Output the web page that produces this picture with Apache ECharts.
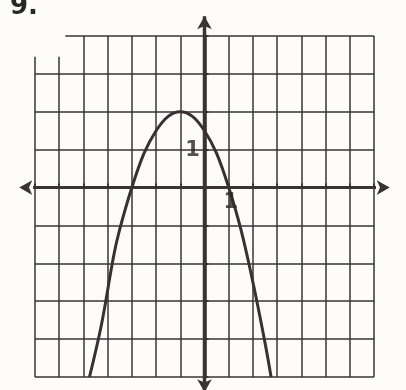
<!DOCTYPE html>
<html>
<head>
<meta charset="utf-8">
<script src="https://cdn.jsdelivr.net/npm/echarts@6/dist/echarts.min.js"></script>
<style>
  html, body { margin: 0; padding: 0; background: #fdfcfb; }
  #chart { width: 406px; height: 390px; }
</style>
</head>
<body>
<div id="chart"></div>
<script>
// Graph window, in grid units
const xRange = [-7, 7];
const yRange = [-5, 4];

// Points read along the parabola
const curveX = [-4.75, -4.25, -3.75, -3.5, -3, -2.5, -2, -1.5, -1, -0.5, 0, 0.5, 1, 1.5, 2, 2.5, 2.75];
const curveY = [-5, -3.6, -1.8, -1.1, 0, 0.9, 1.5, 1.88, 2, 1.88, 1.5, 0.9, 0, -1.1, -2.5, -4.1, -5];

// Axis ends (arrow centres), in grid units
const xAxisEnds = [-7.65, 7.65];
const yAxisEnds = [-5.4, 4.52];

// The two labelled ticks: [x, y, text]
const tickLabels = [[1, 0, '1'], [0, 1, '1']];

const INK = '#3a3333';

const chart = echarts.init(document.getElementById('chart'));

const curveData = curveX.map((x, i) => [x, curveY[i]]);

const axisArrow = (value, rotate) => ({
  value: value,
  symbol: 'arrow',
  symbolSize: [11, 13],
  symbolRotate: rotate,
});

chart.setOption({
  backgroundColor: '#fdfcfb',
  animation: false,
  title: {
    text: '9.',
    left: 5,
    top: -11,
    textStyle: { fontSize: 26, fontWeight: 'bold', color: '#2a2626', fontFamily: 'DejaVu Sans' },
  },
  grid: { left: 35, right: 32, top: 36, bottom: 13, containLabel: false },
  xAxis: {
    type: 'value',
    min: xRange[0],
    max: xRange[1],
    interval: 1,
    axisLine: { show: true, onZero: true, lineStyle: { color: INK, width: 3 } },
    axisTick: { show: true, inside: true, length: 4, lineStyle: { color: INK, width: 2 } },
    axisLabel: { show: false },
    splitLine: { show: true, lineStyle: { color: INK, width: 1.5 } },
  },
  yAxis: {
    type: 'value',
    min: yRange[0],
    max: yRange[1],
    interval: 1,
    axisLine: { show: true, onZero: true, lineStyle: { color: INK, width: 3.5 } },
    axisTick: { show: true, inside: true, length: 4, lineStyle: { color: INK, width: 2 } },
    axisLabel: { show: false },
    splitLine: { show: true, lineStyle: { color: INK, width: 1.5 } },
  },
  series: [
    {
      name: 'x axis',
      type: 'line',
      clip: false,
      silent: true,
      data: [axisArrow([xAxisEnds[0], 0], 90), axisArrow([xAxisEnds[1], 0], -90)],
      lineStyle: { color: INK, width: 3 },
      itemStyle: { color: INK },
    },
    {
      name: 'y axis',
      type: 'line',
      clip: false,
      silent: true,
      data: [axisArrow([0, yAxisEnds[0]], 180), axisArrow([0, yAxisEnds[1]], 0)],
      lineStyle: { color: INK, width: 3.5 },
      itemStyle: { color: INK },
    },
    {
      name: 'parabola',
      type: 'line',
      smooth: 0.35,
      showSymbol: false,
      data: curveData,
      lineStyle: { color: '#3a3030', width: 3 },
    },
    {
      name: 'tick labels',
      type: 'scatter',
      silent: true,
      symbolSize: 0,
      z: 5,
      data: tickLabels.map(t => ({ value: [t[0], t[1]], name: t[2] })),
      label: {
        show: true,
        formatter: (p) => p.name,
        position: 'inside',
        color: '#2a2626',
        fontSize: 21,
        fontWeight: 'bold',
        fontFamily: 'DejaVu Sans',
      },
      labelLayout: (params) => {
        // x label sits just under the axis, y label just left of it
        return params.dataIndex === 0
          ? { dx: 2, dy: 15 }
          : { dx: -12, dy: 1 };
      },
    },
  ],
});

// The scan is missing the top-left corner of the grid
const p0 = chart.convertToPixel({ gridIndex: 0 }, [-7.3, 4.15]);
const p1 = chart.convertToPixel({ gridIndex: 0 }, [-5.75, 3.45]);
chart.setOption({
  graphic: [{
    type: 'rect',
    shape: { x: p0[0], y: p0[1], width: p1[0] - p0[0], height: p1[1] - p0[1] },
    style: { fill: '#fdfcfb' },
    z: 100,
  }],
});
</script>
</body>
</html>
